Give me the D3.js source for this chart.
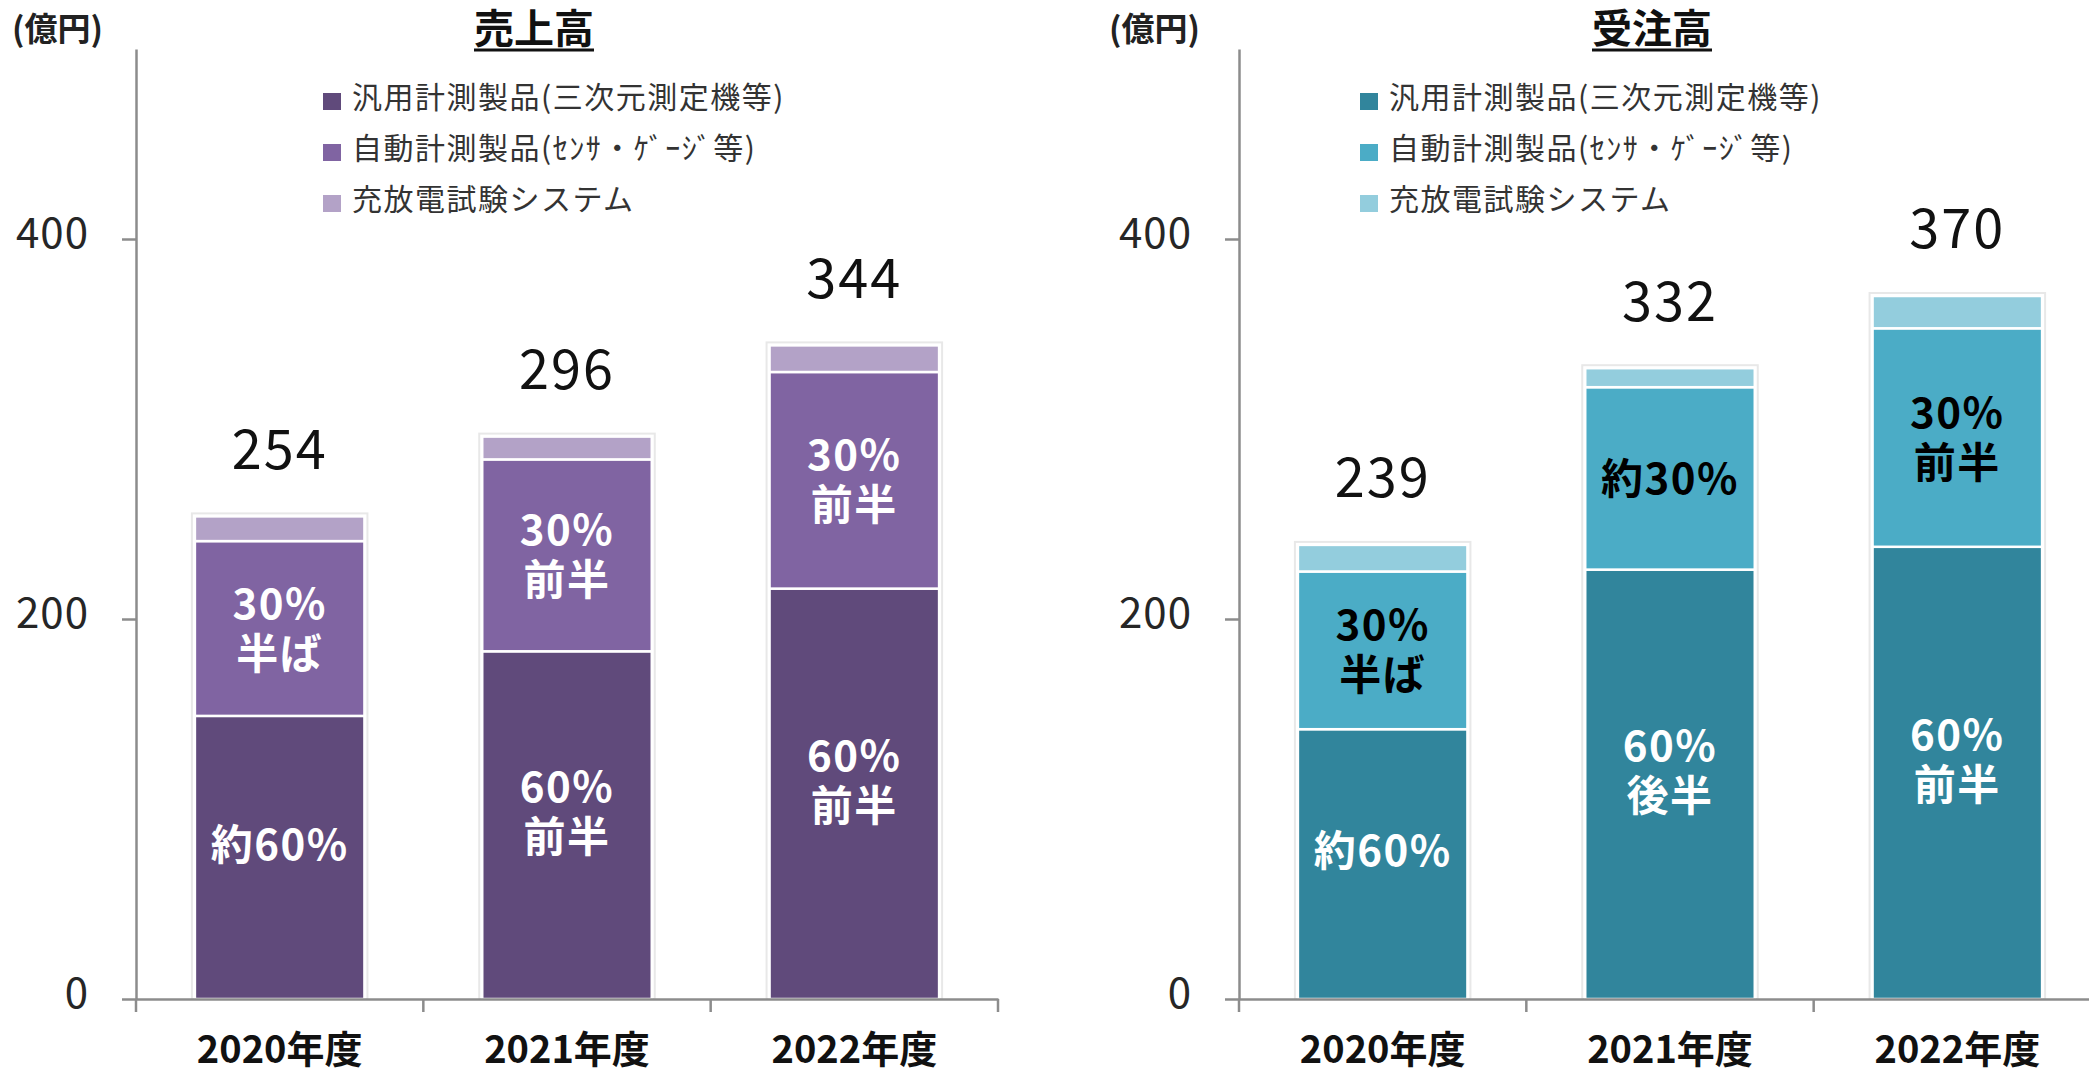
<!DOCTYPE html>
<html><head><meta charset="utf-8">
<script src="https://cdn.jsdelivr.net/npm/d3@7"></script>
<style>
body{margin:0;background:#fff}
svg{display:block}
text{font-family:"Noto Sans CJK JP","Noto Sans",sans-serif}
</style>
</head><body>
<svg id="c" width="2089" height="1068"></svg>
<script>
// ---- data ----
const categories = ["2020年度", "2021年度", "2022年度"];
const seriesNames = ["汎用計測製品(三次元測定機等)", "自動計測製品(ｾﾝｻ・ｹﾞｰｼﾞ等)", "充放電試験システム"];
const yTicks = [0, 200, 400];

const salesGeneral = [149, 183, 216];
const salesAuto    = [92, 101, 114];
const salesBattery = [13, 12, 14];
const salesTotals  = [254, 296, 344];
const salesLabelsGeneral = ["約60%", "60%\n前半", "60%\n前半"];
const salesLabelsAuto    = ["30%\n半ば", "30%\n前半", "30%\n前半"];

const ordersGeneral = [142, 226, 238];
const ordersAuto    = [83, 96, 115];
const ordersBattery = [14, 10, 17];
const ordersTotals  = [239, 332, 370];
const ordersLabelsGeneral = ["約60%", "60%\n後半", "60%\n前半"];
const ordersLabelsAuto    = ["30%\n半ば", "約30%", "30%\n前半"];

// ---- drawing ----
const svg = d3.select("#c");
const y = d3.scaleLinear().domain([0, 500]).range([999, 49]);
const axisColor = "#8c8c8c";
const FONT = '"Noto Sans CJK JP","Noto Sans",sans-serif';

function drawChart(cfg) {
  const g = svg.append("g");
  const x = d3.scaleBand().domain(categories)
    .range([cfg.x0, cfg.x0 + 862]).paddingInner(0.41).paddingOuter(0.205);

  const rows = categories.map((c, i) => ({
    cat: c, general: cfg.general[i], auto: cfg.auto[i], battery: cfg.battery[i]
  }));
  const keys = ["general", "auto", "battery"];
  const stacked = d3.stack().keys(keys)(rows);

  // bar halo
  g.selectAll("rect.halo").data(rows).join("rect")
    .attr("x", d => x(d.cat) - 3)
    .attr("width", x.bandwidth() + 6)
    .attr("y", (d, i) => y(cfg.totals[i]) - 3)
    .attr("height", (d, i) => y(0) - y(cfg.totals[i]) + 3)
    .attr("fill", "none").attr("stroke", "#e8e8e8").attr("stroke-width", 2);

  // segments
  stacked.forEach((layer, li) => {
    g.selectAll(null).data(layer).join("rect")
      .attr("x", d => x(d.data.cat))
      .attr("width", x.bandwidth())
      .attr("y", d => y(d[1]))
      .attr("height", d => y(d[0]) - y(d[1]))
      .attr("fill", cfg.colors[li])
      .attr("stroke", "#fff").attr("stroke-width", 2.5);
  });

  // inside labels
  const labelSets = [cfg.labelsGeneral, cfg.labelsAuto];
  labelSets.forEach((labels, li) => {
    const layer = stacked[li];
    layer.forEach((d, i) => {
      const lines = labels[i].split("\n");
      const cy = (y(d[0]) + y(d[1])) / 2 + (li === 0 ? -13 : 0);
      const lh = 50;
      lines.forEach((ln, k) => {
        g.append("text")
          .attr("text-anchor", "middle")
          .attr("font-size", 42).attr("font-weight", 700)
          .attr("letter-spacing", 1.5)
          .attr("fill", cfg.labelColors[li])
          .attr("x", x(d.data.cat) + x.bandwidth() / 2)
          .attr("y", cy + (k - (lines.length - 1) / 2) * lh)
          .attr("dy", "0.36em")
          .text(ln);
      });
    });
  });

  // totals
  g.selectAll(null).data(rows).join("text")
    .attr("x", d => x(d.cat) + x.bandwidth() / 2)
    .attr("y", (d, i) => y(cfg.totals[i]) - 67)
    .attr("dy", "0.36em")
    .attr("text-anchor", "middle")
    .attr("font-size", 54).attr("letter-spacing", 2).attr("fill", "#111")
    .text((d, i) => cfg.totals[i]);

  // y axis
  const ya = g.append("g").attr("transform", `translate(${cfg.x0},0)`)
    .call(d3.axisLeft(y).tickValues(yTicks).tickSize(14).tickSizeOuter(0).tickPadding(33));
  ya.select(".domain").attr("stroke", axisColor).attr("stroke-width", 2.5);
  ya.selectAll(".tick line").attr("stroke", axisColor).attr("stroke-width", 2.5);
  ya.selectAll(".tick text").attr("font-size", 42).attr("fill", "#262626")
    .attr("letter-spacing", 1)
    .attr("font-family", FONT).attr("dy", "0.2em");

  // x axis
  const xa = g.append("g").attr("transform", `translate(0,${y(0)})`)
    .call(d3.axisBottom(x).tickSize(0).tickSizeOuter(0).tickPadding(0));
  xa.select(".domain").attr("stroke", axisColor).attr("stroke-width", 2.5);
  xa.selectAll(".tick text").attr("font-size", 38).attr("font-weight", 700).attr("fill", "#111")
    .attr("font-family", FONT).attr("y", 64).attr("dy", 0);
  d3.range(categories.length + 1).forEach(i => {
    const xx = cfg.x0 + i * x.step();
    g.append("line").attr("x1", xx).attr("x2", xx)
      .attr("y1", y(0)).attr("y2", y(0) + 13)
      .attr("stroke", axisColor).attr("stroke-width", 2.5);
  });

  // unit
  g.append("text").attr("x", cfg.unitX).attr("y", 29).attr("dy", "0.36em")
    .attr("font-size", 33).attr("font-weight", 700).attr("fill", "#222")
    .text("(億円)");

  // title
  const tt = g.append("text").attr("x", cfg.titleX).attr("y", 29).attr("dy", "0.36em")
    .attr("text-anchor", "middle").attr("font-size", 40).attr("font-weight", 700)
    .attr("fill", "#111").text(cfg.title);
  const bb = tt.node().getBBox();
  g.append("line").attr("x1", bb.x).attr("x2", bb.x + bb.width)
    .attr("y1", 50).attr("y2", 50).attr("stroke", "#111").attr("stroke-width", 3);

  // legend
  seriesNames.forEach((name, i) => {
    const cy = 97 + i * 51;
    g.append("rect").attr("x", cfg.legendX).attr("y", cy - 4).attr("width", 18).attr("height", 17)
      .attr("fill", cfg.colors[i]);
    g.append("text").attr("x", cfg.legendX + 29).attr("y", cy).attr("dy", "0.36em")
      .attr("font-size", 30).attr("letter-spacing", 1.5).attr("fill", "#333").text(name);
  });
}

drawChart({
  x0: 136, title: "売上高", titleX: 534, unitX: 12, legendX: 323,
  general: salesGeneral, auto: salesAuto, battery: salesBattery, totals: salesTotals,
  labelsGeneral: salesLabelsGeneral, labelsAuto: salesLabelsAuto,
  colors: ["#604a7b", "#8064a2", "#b3a2c7"],
  labelColors: ["#ffffff", "#ffffff"]
});
drawChart({
  x0: 1239, title: "受注高", titleX: 1652, unitX: 1109, legendX: 1360,
  general: ordersGeneral, auto: ordersAuto, battery: ordersBattery, totals: ordersTotals,
  labelsGeneral: ordersLabelsGeneral, labelsAuto: ordersLabelsAuto,
  colors: ["#31859c", "#4bacc6", "#93cddd"],
  labelColors: ["#ffffff", "#000000"]
});
</script>
</body></html>
